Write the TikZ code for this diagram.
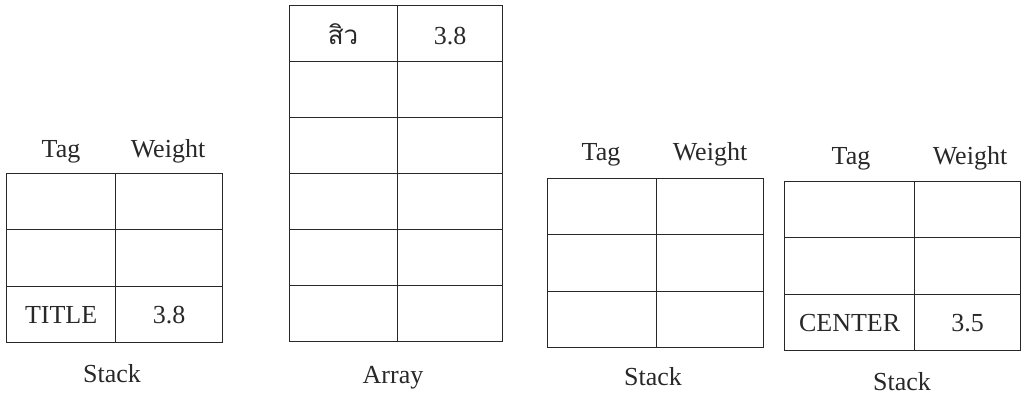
\documentclass[tikz,border=0pt]{standalone}
\usepackage{fontspec}
\setmainfont{Liberation Serif}
\newfontfamily\thaifont[Script=Thai]{Loma}
\definecolor{ink}{RGB}{40,40,40}
\begin{document}
\begin{tikzpicture}[x=1pt,y=-1pt,
  cell/.style={draw=ink, line width=1.2pt, inner sep=0pt, anchor=north west,
    text=ink, font=\fontsize{26}{31}\selectfont},
  lab/.style={anchor=base, inner sep=0pt, text=ink, font=\fontsize{26}{31}\selectfont}]
\useasboundingbox (0,0) rectangle (1021,398);
% ---------- Stack 1 ----------
\node[cell, minimum width=109pt, minimum height=56pt] (a11) at (6,173) {};
\node[cell, minimum width=107pt, minimum height=56pt] (a12) at (115,173) {};
\node[cell, minimum width=109pt, minimum height=57pt] (a21) at (6,229) {};
\node[cell, minimum width=107pt, minimum height=57pt] (a22) at (115,229) {};
\node[cell, minimum width=109pt, minimum height=56pt] (a31) at (6,286) {TITLE};
\node[cell, minimum width=107pt, minimum height=56pt] (a32) at (115,286) {3.8};
\node[lab] (atag) at (61,158) {Tag};
\node[lab] (awt) at (168,158) {Weight};
\node[lab] (acap) at (112,382) {Stack};
% ---------- Array ----------
\foreach \r in {1,...,6} {
  \pgfmathsetmacro{\yy}{5+(\r-1)*56}
  \node[cell, minimum width=108pt, minimum height=56pt] (b\r1) at (289,\yy) {};
  \node[cell, minimum width=105pt, minimum height=56pt] (b\r2) at (397,\yy) {};
}
\node[lab] (bt) at (343,45) {\thaifont สิว};
\node[lab] (bw) at (450,45) {3.8};
\node[lab] (bcap) at (393,384) {Array};
% ---------- Stack 2 ----------
\node[cell, minimum width=109pt, minimum height=56pt] (c11) at (547,178) {};
\node[cell, minimum width=107pt, minimum height=56pt] (c12) at (656,178) {};
\node[cell, minimum width=109pt, minimum height=57pt] (c21) at (547,234) {};
\node[cell, minimum width=107pt, minimum height=57pt] (c22) at (656,234) {};
\node[cell, minimum width=109pt, minimum height=56pt] (c31) at (547,291) {};
\node[cell, minimum width=107pt, minimum height=56pt] (c32) at (656,291) {};
\node[lab] (ctag) at (601,161) {Tag};
\node[lab] (cwt) at (710,161) {Weight};
\node[lab] (ccap) at (653,385) {Stack};
% ---------- Stack 3 ----------
\node[cell, minimum width=130pt, minimum height=56pt] (d11) at (784,181) {};
\node[cell, minimum width=106pt, minimum height=56pt] (d12) at (914,181) {};
\node[cell, minimum width=130pt, minimum height=57pt] (d21) at (784,237) {};
\node[cell, minimum width=106pt, minimum height=57pt] (d22) at (914,237) {};
\node[cell, minimum width=130pt, minimum height=56pt] (d31) at (784,294) {CENTER};
\node[cell, minimum width=106pt, minimum height=56pt] (d32) at (914,294) {3.5};
\node[lab] (dtag) at (851,165) {Tag};
\node[lab] (dwt) at (970,165) {Weight};
\node[lab] (dcap) at (902,390) {Stack};
\end{tikzpicture}
\end{document}
